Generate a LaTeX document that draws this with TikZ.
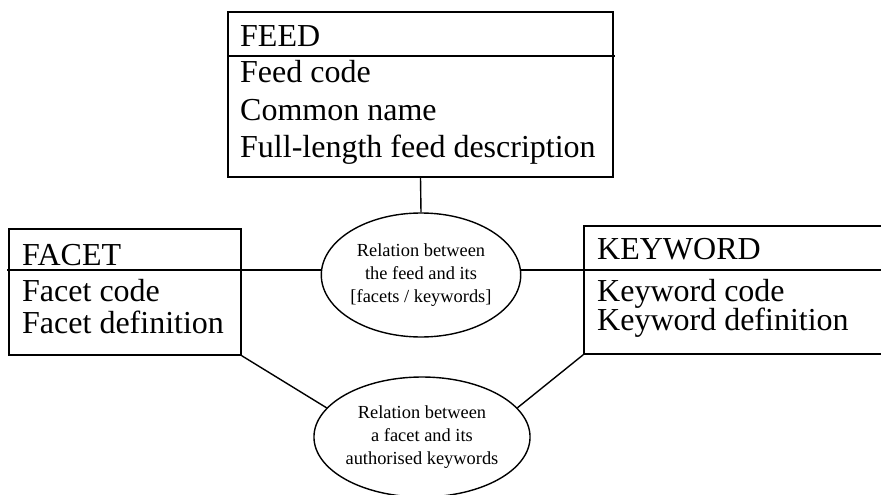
\documentclass[tikz,border=0pt]{standalone}
\usepackage{fontspec}
\setmainfont{Liberation Serif}
\usetikzlibrary{shapes.geometric}
\begin{document}
\begin{tikzpicture}[x=1pt,y=-1pt,
  ent/.style={draw, line width=1.4pt, rectangle, inner sep=0pt},
  rel/.style={draw, line width=1.4pt, ellipse, inner sep=0pt, minimum width=193pt, align=center, font=\fontsize{18.4}{23}\selectfont},
  txt/.style={anchor=base west, inner sep=0pt, font=\fontsize{32}{37}\selectfont},
  conn/.style={line width=1.4pt}]
\clip (0,0) rectangle (881,495);
% entity boxes
\node[ent, minimum width=385pt, minimum height=165pt] (feed) at (420.5,94.5) {};
\node[ent, minimum width=232pt, minimum height=126pt] (facet) at (125,292) {};
\node[ent, minimum width=320pt, minimum height=128pt] (keyword) at (744,290) {};
% header lines
\draw[conn] (feed.west |- 0,56) -- (615,56);
% entity texts
\node[txt] (t1) at (240,47) {FEED};
\node[txt] (t2) at (240,83) {Feed code};
\node[txt] (t3) at (240,120) {Common name};
\node[txt] (t4) at (240,157) {Full-length feed description};
\node[txt] (t5) at (22,265) {FACET};
\node[txt] (t6) at (22,301) {Facet code};
\node[txt] (t7) at (22,333) {Facet definition};
\node[txt] (t8) at (597,259) {KEYWORD};
\node[txt] (t9) at (597,301) {Keyword code};
\node[txt] (t10) at (597,330) {Keyword definition};
% relationships
\node[rel, minimum height=124pt] (rel1) at (421,275) {Relation between\\the feed and its\\{[facets / keywords]}};
\node[rel, minimum height=120pt] (rel2) at (422,437) {Relation between\\a facet and its\\authorised keywords};
% connectors
\coordinate (fl) at (7,270);
\coordinate (kr) at (900,270);
\draw[conn] (feed.south) -- (rel1.north);
\draw[conn] (fl) -- (rel1.west |- fl);
\draw[conn] (rel1.east |- kr) -- (kr);
\draw[conn] (facet.south east) -- (rel2.163);
\draw[conn] (keyword.south west) -- (rel2.17);
\end{tikzpicture}
\end{document}
